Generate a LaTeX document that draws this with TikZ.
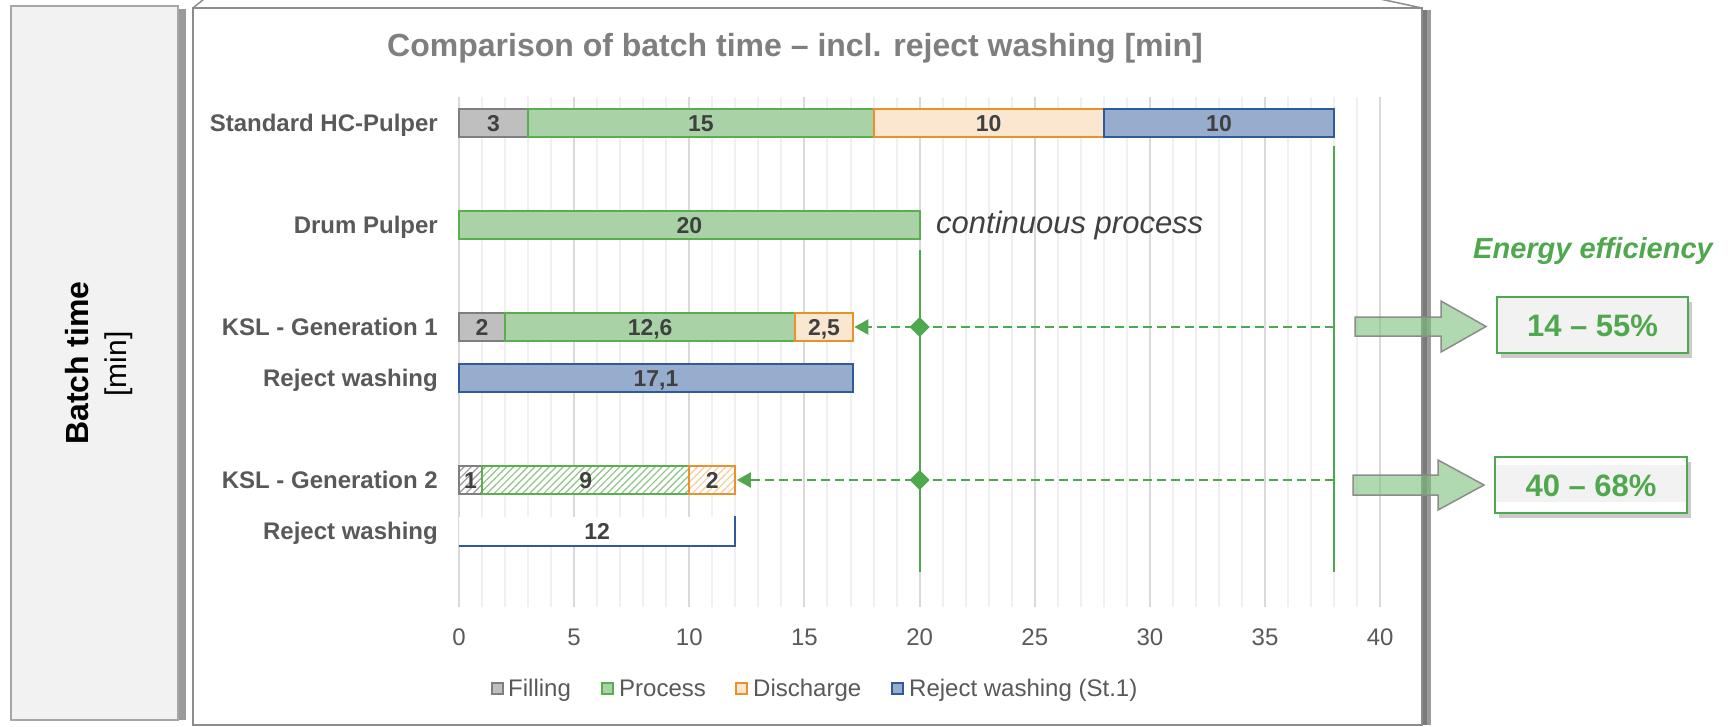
\documentclass[tikz,border=0pt]{standalone}
\usepackage{fontspec}
\setmainfont{Liberation Sans}
\usetikzlibrary{arrows.meta,shapes.geometric,patterns.meta,shadows}

\definecolor{fillgray}{HTML}{BFBFBF}
\definecolor{fillgrayb}{HTML}{7F7F7F}
\definecolor{procfill}{HTML}{A9D3A7}
\definecolor{procline}{HTML}{5AAE4F}
\definecolor{disfill}{HTML}{FBE7CF}
\definecolor{disline}{HTML}{E8922B}
\definecolor{rwfill}{HTML}{97ADCD}
\definecolor{rwline}{HTML}{2F5A9E}
\definecolor{darktext}{HTML}{404040}
\definecolor{labtext}{HTML}{595959}
\definecolor{titletext}{HTML}{7F7F7F}
\definecolor{accgreen}{HTML}{50A84E}
\definecolor{gridmajor}{HTML}{D9D9D9}
\definecolor{gridminor}{HTML}{F0F0F0}
\definecolor{panelgray}{HTML}{F2F2F2}
\definecolor{panelline}{HTML}{A6A6A6}
\definecolor{boxline}{HTML}{8C8C8C}
\definecolor{shadowgray}{HTML}{9A9A9A}
\definecolor{shadowdark}{HTML}{7A7A7A}
\definecolor{arrowfill}{HTML}{7CC07A}

\newcommand\fsz[1]{\fontsize{#1}{#1}\selectfont}
\newcommand\mybar[6]{\node[bar,#5,minimum width={#3*23.03pt}] (#1) at ({459+#2*23.03},#4) {#6};}

\begin{document}
\begin{tikzpicture}[x=1pt,y=-1pt,
  bar/.style={draw, line width=2pt, minimum height=28pt, inner sep=0pt, outer sep=0pt,
    anchor=west, text=darktext, font=\bfseries\fsz{23}, text height=16.5pt, text depth=0pt},
  grayb/.style={fill=fillgray, draw=fillgrayb},
  procb/.style={fill=procfill, draw=procline},
  disb/.style={fill=disfill, draw=disline},
  rwb/.style={fill=rwfill, draw=rwline},
  grayh/.style={draw=fillgrayb, preaction={fill=white},
    pattern={Lines[angle=45,distance=5pt,line width=1.2pt]}, pattern color=fillgrayb!80},
  proch/.style={draw=procline, preaction={fill=white},
    pattern={Lines[angle=45,distance=5pt,line width=1.2pt]}, pattern color=procline!70},
  dish/.style={draw=disline, preaction={fill=white},
    pattern={Lines[angle=45,distance=5pt,line width=1.2pt]}, pattern color=disline!45},
  rwwhite/.style={fill=white, draw=none},
  catlabel/.style={anchor=base east, inner sep=0pt, text=labtext, font=\bfseries\fsz{24}},
  ticklab/.style={anchor=base, inner sep=0pt, text=labtext, font=\fsz{24}},
  legtext/.style={anchor=base west, inner sep=0pt, text=labtext, font=\fsz{24}},
  legsq/.style={line width=2pt, minimum size=11pt, inner sep=0pt, outer sep=0pt},
  vline/.style={draw=accgreen, line width=2pt},
  dasharrow/.style={draw=accgreen, line width=2.2pt, dash pattern=on 9pt off 5pt,
    -{Triangle[width=15pt,length=14pt]}, shorten >=1.5pt},
  dmd/.style={diamond, fill=accgreen, minimum size=20pt, inner sep=0pt},
  blockarrow/.style={fill=arrowfill, fill opacity=0.6, draw=boxline, line width=1.5pt},
  valbox/.style={draw=accgreen, line width=2pt, fill=panelgray, inner sep=0pt,
    minimum height=56pt, text=accgreen, font=\bfseries\fsz{31}, text height=22.2pt, text depth=0pt,
    drop shadow={shadow xshift=4pt, shadow yshift=-5pt, opacity=0.35, fill=black!60}}
]
\useasboundingbox (0,0) rectangle (1731,726);

% left panel
\fill[shadowgray] (178,9) rectangle (186,720);
\filldraw[fill=panelgray, draw=panelline, line width=1.5pt] (11,6) rectangle (178,720);
\node[rotate=90, font=\bfseries\fsz{32}, inner sep=0pt] (bt) at (77,363) {Batch time};
\node[rotate=90, font=\fsz{30}, inner sep=0pt] (bm) at (119,364) {[min]};

% main chart frame
\fill[shadowgray] (1421,10) rectangle (1431,725);
\fill[shadowdark] (1421,10) rectangle (1427,725);
\filldraw[fill=white, draw=boxline, line width=1.5pt] (193,8) rectangle (1422,725);
\draw[boxline, line width=1.5pt] (193,8) -- (204,-1);
\draw[boxline, line width=1.5pt] (1422,8) -- (1380,-1);

% title
\node[anchor=base, inner sep=0pt, text=titletext, font=\bfseries\fsz{32}] (title) at (795,56.7)
  {Comparison of batch time – incl. reject washing [min]};

% grid
\foreach \i in {0,...,40} {\draw[gridminor, line width=2pt] ({459+\i*23.03},97) -- ({459+\i*23.03},607);}
\foreach \i in {0,5,...,40} {\draw[gridmajor, line width=2pt] ({459+\i*23.03},97) -- ({459+\i*23.03},607);}

% category labels
\node[catlabel] (lstd) at (438,131.6) {Standard HC-Pulper};
\node[catlabel] (ldrum) at (438,233.6) {Drum Pulper};
\node[catlabel] (lk1) at (438,335.6) {KSL - Generation 1};
\node[catlabel] (lrw1) at (438,386.6) {Reject washing};
\node[catlabel] (lk2) at (438,488.6) {KSL - Generation 2};
\node[catlabel] (lrw2) at (438,539.6) {Reject washing};

% bars
\mybar{s1}{0}{3}{123}{grayb}{3}
\mybar{s2}{3}{15}{123}{procb}{15}
\mybar{s3}{18}{10}{123}{disb}{10}
\mybar{s4}{28}{10}{123}{rwb}{10}
\mybar{dr}{0}{20}{225}{procb}{20}
\mybar{k1a}{0}{2}{327}{grayb}{2}
\mybar{k1b}{2}{12.6}{327}{procb}{12,6}
\mybar{k1c}{14.6}{2.5}{327}{disb}{2,5}
\mybar{r1}{0}{17.1}{378}{rwb}{17,1}
\mybar{k2a}{0}{1}{480}{grayh}{1}
\mybar{k2b}{1}{9}{480}{proch}{9}
\mybar{k2c}{10}{2}{480}{dish}{2}
\mybar{r2}{0}{12}{531}{rwwhite}{12}
\draw[rwline, line width=2pt] ([yshift=-1pt]r2.south west) -- ([yshift=-1pt]r2.south east) -- ([yshift=1pt]r2.north east);

\node[anchor=base west, inner sep=0pt, text=darktext, font=\itshape\fsz{31}] (cont) at (936,233) {continuous process};

% green reference lines
\coordinate (v20t) at ({459+20*23.03},250);
\coordinate (v20b) at ({459+20*23.03},572);
\coordinate (v38t) at ({459+38*23.03},146);
\coordinate (v38b) at ({459+38*23.03},572);
\draw[vline] (v20t) -- (v20b);
\draw[vline] (v38t) -- (v38b);
\coordinate (g1) at ({459+38*23.03},327);
\coordinate (g2) at ({459+38*23.03},480);
\draw[dasharrow] (g1) -- (k1c.east);
\draw[dasharrow] (g2) -- (k2c.east);
\node[dmd] (dm1) at ({459+20*23.03},327) {};
\node[dmd] (dm2) at ({459+20*23.03},480) {};

% axis labels
\foreach \v in {0,5,...,40} {\node[ticklab] (t\v) at ({459+\v*23.03},645) {\v};}

% legend
\node[legsq, fill=fillgray, draw=fillgrayb] (lg1) at (497.5,688.5) {};
\node[legtext] (lt1) at (508,696) {Filling};
\node[legsq, fill=procfill, draw=procline] (lg2) at (607.5,688.5) {};
\node[legtext] (lt2) at (619,696) {Process};
\node[legsq, fill=disfill, draw=disline] (lg3) at (741.5,688.5) {};
\node[legtext] (lt3) at (753,696) {Discharge};
\node[legsq, fill=rwfill, draw=rwline] (lg4) at (897,688.5) {};
\node[legtext] (lt4) at (909,696) {Reject washing (St.1)};

% energy efficiency
\node[anchor=base, inner sep=0pt, text=accgreen, font=\bfseries\itshape\fsz{29}] (ee) at (1593,258.4) {Energy efficiency};
\filldraw[blockarrow] (1355,317) -- (1441,317) -- (1441,301) -- (1486,326.5) -- (1441,352) -- (1441,336) -- (1355,336) -- cycle;
\filldraw[blockarrow] (1353,475) -- (1438,475) -- (1438,460) -- (1484,485) -- (1438,510) -- (1438,495) -- (1353,495) -- cycle;
\node[valbox, minimum width=191pt] (vb1) at (1592.5,325) {14 – 55\%};
\node[valbox, minimum width=192pt, fill=white,
  path picture={\fill[panelgray] ([yshift=-8pt]path picture bounding box.north west) rectangle ([yshift=11pt]path picture bounding box.south east);}]
  (vb2) at (1591,485) {40 – 68\%};
\end{tikzpicture}
\end{document}
